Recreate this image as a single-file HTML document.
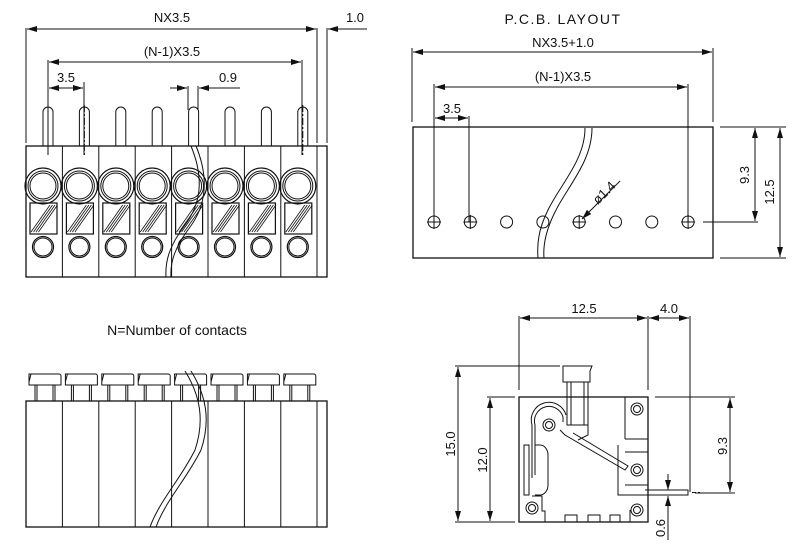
<!DOCTYPE html>
<html><head><meta charset="utf-8">
<style>
html,body{margin:0;padding:0;background:#fff;}
svg{display:block;}
text{font-family:"Liberation Sans",sans-serif;font-size:13px;fill:#111;}
</style></head>
<body>
<svg id="s" width="800" height="555" viewBox="0 0 800 555" xmlns="http://www.w3.org/2000/svg" stroke="#111" fill="none" stroke-width="1">
<defs>
<marker id="a" viewBox="0 0 10 6" refX="10" refY="3" markerWidth="10" markerHeight="6" orient="auto-start-reverse" markerUnits="userSpaceOnUse"><path d="M0,0 L10,3 L0,6 z" fill="#111" stroke="none"/></marker>
</defs>
<g id="g1"></g>
<!-- top-left dims -->
<line x1="26" y1="28" x2="26" y2="143"/>
<line x1="317" y1="28" x2="317" y2="143"/>
<line x1="327" y1="28" x2="327" y2="143"/>
<line x1="27" y1="29" x2="316" y2="29" marker-start="url(#a)" marker-end="url(#a)"/>
<line x1="367" y1="29" x2="328" y2="29" marker-end="url(#a)"/>
<text x="172" y="22" text-anchor="middle" stroke="none">NX3.5</text>
<text x="355" y="22" text-anchor="middle" stroke="none">1.0</text>
<line x1="48" y1="60" x2="48" y2="155"/>
<line x1="302" y1="60" x2="302" y2="155"/>
<line x1="84" y1="82" x2="84" y2="155"/>
<line x1="49" y1="62" x2="301" y2="62" marker-start="url(#a)" marker-end="url(#a)"/>
<text x="172" y="56" text-anchor="middle" stroke="none">(N-1)X3.5</text>
<line x1="49" y1="88" x2="83" y2="88" marker-start="url(#a)" marker-end="url(#a)"/>
<text x="66" y="82" text-anchor="middle" stroke="none">3.5</text>
<line x1="170" y1="88" x2="187" y2="88" marker-end="url(#a)"/>
<line x1="240" y1="88" x2="199" y2="88" marker-end="url(#a)"/>
<line x1="188" y1="86" x2="188" y2="110"/><line x1="198" y1="86" x2="198" y2="110"/>
<text x="228" y="82" text-anchor="middle" stroke="none">0.9</text>
<rect x="26" y="146" width="301" height="131" stroke-width="1.3"/>
<path d="M191,146 C205,180 200,205 185,225 C170,245 165,260 166,277" stroke-width="1"/>
<path d="M196,146 C210,180 205,207 190,227 C175,247 170,262 171,277" stroke-width="1"/>

<!-- PCB layout -->
<text x="563" y="24" text-anchor="middle" stroke="none" style="font-size:14px;letter-spacing:1.5px">P.C.B. LAYOUT</text>
<text x="563" y="47" text-anchor="middle" stroke="none">NX3.5+1.0</text>
<line x1="412" y1="48" x2="412" y2="122"/><line x1="713" y1="48" x2="713" y2="122"/>
<line x1="413" y1="52" x2="712" y2="52" marker-start="url(#a)" marker-end="url(#a)"/>
<text x="563" y="81" text-anchor="middle" stroke="none">(N-1)X3.5</text>
<line x1="434" y1="84" x2="434" y2="222"/><line x1="688" y1="84" x2="688" y2="222"/>
<line x1="469" y1="116" x2="469" y2="222"/>
<line x1="435" y1="87" x2="687" y2="87" marker-start="url(#a)" marker-end="url(#a)"/>
<line x1="435" y1="118" x2="468" y2="118" marker-start="url(#a)" marker-end="url(#a)"/>
<text x="452" y="113" text-anchor="middle" stroke="none">3.5</text>
<rect x="413" y="127" width="300" height="131" stroke-width="1.3"/>
<path d="M585,128 C585,160 560,185 548,210 C538,230 537,245 538,258"/>
<path d="M592,128 C592,162 567,187 555,212 C545,232 543,246 544,258"/>
<line x1="620" y1="181" x2="582" y2="219" marker-end="url(#a)"/>
<text x="0" y="0" stroke="none" transform="translate(598,205) rotate(-45)">ø1.4</text>
<line x1="720" y1="127" x2="786" y2="127"/><line x1="703" y1="222" x2="758" y2="222"/><line x1="720" y1="258" x2="786" y2="258"/>
<line x1="755" y1="128" x2="755" y2="221" marker-start="url(#a)" marker-end="url(#a)"/>
<line x1="780" y1="128" x2="780" y2="257" marker-start="url(#a)" marker-end="url(#a)"/>
<text stroke="none" text-anchor="middle" transform="translate(749,175) rotate(-90)">9.3</text>
<text stroke="none" text-anchor="middle" transform="translate(774,192) rotate(-90)">12.5</text>
<g id="g2"></g>

<!-- bottom-left -->
<text x="177" y="335" text-anchor="middle" stroke="none" style="font-size:14px">N=Number of contacts</text>
<g id="g3"></g>
<rect x="26" y="401" width="301" height="126" stroke-width="1.3"/>
<path d="M185,371 C200,395 205,420 195,450 C180,480 160,500 150,527"/>
<path d="M191,371 C206,395 211,420 201,450 C186,480 166,500 156,527"/>

<!-- bottom-right side view -->
<line x1="519" y1="316" x2="519" y2="390"/><line x1="648" y1="316" x2="648" y2="390"/><line x1="690" y1="316" x2="690" y2="492"/>
<line x1="520" y1="318" x2="647" y2="318" marker-start="url(#a)" marker-end="url(#a)"/>
<line x1="649" y1="318" x2="689" y2="318" marker-start="url(#a)" marker-end="url(#a)"/>
<text x="584" y="313" text-anchor="middle" stroke="none">12.5</text>
<text x="669" y="313" text-anchor="middle" stroke="none">4.0</text>
<line x1="455" y1="366" x2="560" y2="366"/>
<line x1="487" y1="397" x2="515" y2="397"/><line x1="655" y1="397" x2="735" y2="397"/>
<line x1="455" y1="522" x2="515" y2="522"/>
<line x1="458" y1="367" x2="458" y2="521" marker-start="url(#a)" marker-end="url(#a)"/>
<line x1="490" y1="398" x2="490" y2="521" marker-start="url(#a)" marker-end="url(#a)"/>
<line x1="730" y1="398" x2="730" y2="492" marker-start="url(#a)" marker-end="url(#a)"/>
<line x1="695" y1="493" x2="735" y2="493"/>
<text stroke="none" text-anchor="middle" transform="translate(455,444) rotate(-90)">15.0</text>
<text stroke="none" text-anchor="middle" transform="translate(487,460) rotate(-90)">12.0</text>
<text stroke="none" text-anchor="middle" transform="translate(727,446) rotate(-90)">9.3</text>
<text stroke="none" text-anchor="middle" transform="translate(665,528) rotate(-90)">0.6</text>
<line x1="668" y1="474" x2="668" y2="490" marker-end="url(#a)"/>
<line x1="668" y1="540" x2="668" y2="496" marker-end="url(#a)"/>
<rect x="519" y="397" width="129" height="125" stroke-width="1.3"/>
<path d="M563,366 h29 l-2,5 v11 h-27 z"/>
<path d="M567,382 v43 h21 v-43 M571,382 v43 M584,382 v43"/>
<path d="M588,425 v10 l-10,5 M560,430 l5,5 l60,35 l3,-4 l-55,-33"/>
<circle cx="549" cy="425" r="6"/><circle cx="549" cy="425" r="3.5"/>
<path d="M535,475 v-50 a14,14 0 0 1 28,-8 v5"/>
<path d="M532,478 v-53 a17,17 0 0 1 34,-10"/>
<rect x="524" y="445" width="5" height="50"/>
<path d="M535,445 h5 a8,10 0 0 1 8,10 v30 a8,10 0 0 1 -8,10 h-5"/>
<circle cx="637" cy="409" r="6"/><circle cx="637" cy="409" r="3.5"/>
<circle cx="637" cy="470" r="6"/><circle cx="637" cy="470" r="3.5"/>
<circle cx="637" cy="510" r="6"/><circle cx="637" cy="510" r="3.5"/>
<circle cx="532" cy="508" r="6"/><circle cx="532" cy="508" r="3.5"/>
<path d="M625,397 v42 M625,439 h23 M618,445 v50 h30 M625,452 h23 v12 M625,485 h23"/>
<path d="M532,496 h10 v15 h3 v11 M565,522 v-7 h12 v7 M588,522 v-7 h12 v7 M610,522 v-7 h10 v7 M630,522 v-12"/>
<path d="M645,490 h43 v5 h-43"/>
<line x1="692" y1="492.5" x2="700" y2="492.5" stroke-dasharray="4 2"/>
</svg>
<script>
var ns="http://www.w3.org/2000/svg";
function el(p,t,a){var e=document.createElementNS(ns,t);for(var k in a)e.setAttribute(k,a[k]);p.appendChild(e);return e;}
var g1=document.getElementById("g1"),g2=document.getElementById("g2"),g3=document.getElementById("g3");
var P=36.4;
for(var i=0;i<8;i++){
 var x0=26+i*P, cx=x0+17, px=48+i*P;
 // pins
 el(g1,"path",{d:"M"+(px-5)+",146 V112 a5,5 0 0 1 10,0 V146"});
 if(i<2||i==7){el(g1,"line",{x1:px,y1:105,x2:px,y2:155,"stroke-dasharray":"7 2 2 2"});}
 if(i>0)el(g1,"line",{x1:x0,y1:146,x2:x0,y2:277});
 el(g1,"circle",{cx:cx,cy:186,r:18,"stroke-width":1.2});
 el(g1,"circle",{cx:cx,cy:186,r:15});
 el(g1,"circle",{cx:cx,cy:186,r:13});
 el(g1,"rect",{x:x0+4,y:203,width:27,height:31,"stroke-width":1.2});
 for(var k=0;k<4;k++){var o=k*2.5;el(g1,"line",{x1:x0+5+o,y1:232,x2:x0+24+o,y2:205,"stroke-width":0.8});}
 el(g1,"circle",{cx:cx,cy:247,r:10.5,"stroke-width":1.2});
 el(g1,"circle",{cx:cx,cy:247,r:9});
 // pcb holes
 var hx=434+i*36.3;
 el(g2,"circle",{cx:hx,cy:222,r:6});
 if(i==0||i==1||i==4||i==7){el(g2,"line",{x1:hx-7,y1:222,x2:hx+7,y2:222});el(g2,"line",{x1:hx,y1:215,x2:hx,y2:229});}
 // bottom-left
 el(g3,"path",{d:"M"+(x0+3)+",385 V374 h2 l-2,8 M"+(x0+5)+",374 h28 a2,2 0 0 1 2,2 v9 h-32 v-11"});
 el(g3,"path",{d:"M"+(x0+9)+",385 v16 M"+(x0+29)+",385 v16 M"+(x0+11)+",385 v16 M"+(x0+27)+",385 v16"});
 if(i>0)el(g3,"line",{x1:x0,y1:401,x2:x0,y2:527});
}
el(g3,"line",{x1:317,y1:401,x2:317,y2:527});
el(g1,"line",{x1:317,y1:146,x2:317,y2:277});
</script>
</body></html>
